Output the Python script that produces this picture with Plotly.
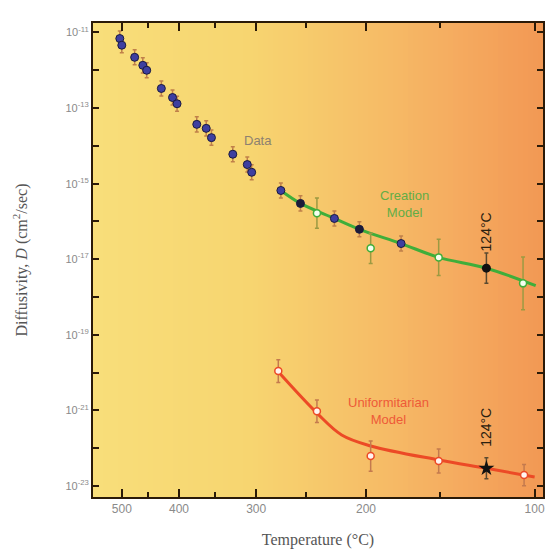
import plotly.graph_objects as go

# ---------------- data ----------------
# Measured helium diffusivity data: temperature (°C), D (cm^2/s)
data_T = [504, 500, 475, 460, 453, 428, 410, 403, 374, 361, 354, 327, 310, 305,
          274, 255, 225, 205, 175]
data_D = [6.9e-12, 4.6e-12, 2.2e-12, 1.35e-12, 1.0e-12, 3.3e-13, 1.9e-13, 1.3e-13,
          3.7e-14, 2.9e-14, 1.65e-14, 6.0e-15, 3.2e-15, 2.0e-15,
          6.6e-16, 3.0e-16, 1.2e-16, 6.2e-17, 2.6e-17]
data_kind = ["b", "b", "b", "b", "b", "b", "b", "b", "b", "b", "b", "b", "b", "b",
             "b", "k", "b", "k", "b"]
data_err_dec = [0.2] * 19

# Creation model predictions (open points) and curve
cre_T = [240, 196.5, 151, 105.5]
cre_D = [1.66e-16, 1.95e-17, 1.12e-17, 2.3e-18]
cre_err_dec = [0.4, 0.4, 0.48, 0.7]
cre_line_T = [274, 255, 225, 205, 175, 151, 124, 99.5]
cre_line_D = [6.6e-16, 3.0e-16, 1.2e-16, 6.2e-17, 2.6e-17, 1.12e-17, 5.8e-18, 2.0e-18]

# 124 °C points
pt124_T = [124]
pt124_cre_D = [5.8e-18]
pt124_uni_D = [2.95e-23]

# Uniformitarian model predictions and curve
uni_T = [276.6, 240, 196.5, 151, 105]
uni_D = [1.1e-20, 9.5e-22, 6.2e-23, 4.6e-23, 1.95e-23]
uni_err_dec = [0.3, 0.3, 0.4, 0.32, 0.28]
uni_line_T = [276.6, 240, 219, 196.5, 151, 124, 100]
uni_line_D = [1.05e-20, 8.5e-22, 2.24e-22, 1.15e-22, 4.9e-23, 2.95e-23, 1.74e-23]

# axis ticks
x_major_T = [500, 400, 300, 200, 100]
x_minor_T = [450, 350, 250, 150]
y_major_dec = [-11, -13, -15, -17, -19, -21, -23]
y_minor_dec = [-12, -14, -16, -18, -20, -22]


def u(T):
    """Inverse absolute temperature axis (1000/K)."""
    return [1000.0 / (t + 273.15) for t in T]


def errs(D, dec):
    up = [d * (10 ** e - 1) for d, e in zip(D, dec)]
    dn = [d * (1 - 10 ** -e) for d, e in zip(D, dec)]
    return up, dn


fig = go.Figure()

# gradient background (yellow -> orange)
stops = [(0.0, (248, 222, 122)), (0.35, (247, 213, 112)), (0.6, (246, 192, 104)),
         (0.8, (245, 172, 96)), (1.0, (242, 152, 84))]
N = 90
for i in range(N):
    p = (i + 0.5) / N
    for j in range(len(stops) - 1):
        if stops[j][0] <= p <= stops[j + 1][0]:
            a, ca = stops[j]
            b, cb = stops[j + 1]
            f = (p - a) / (b - a)
            c = tuple(int(round(ca[k] + (cb[k] - ca[k]) * f)) for k in range(3))
            break
    fig.add_shape(type="rect", xref="paper", yref="paper", x0=i / N, x1=(i + 1) / N + 0.002,
                  y0=0, y1=1, fillcolor="rgb(%d,%d,%d)" % c, line_width=0, layer="below")

# model curves
fig.add_trace(go.Scatter(x=u(cre_line_T), y=cre_line_D, mode="lines",
                         line=dict(color="#3fae3a", width=3, shape="spline", smoothing=1.0),
                         hoverinfo="skip", showlegend=False))
fig.add_trace(go.Scatter(x=u(uni_line_T), y=uni_line_D, mode="lines",
                         line=dict(color="#ec4a26", width=3, shape="spline", smoothing=1.0),
                         hoverinfo="skip", showlegend=False))

# measured data
up, dn = errs(data_D, data_err_dec)
fig.add_trace(go.Scatter(
    x=u(data_T), y=data_D, mode="markers",
    marker=dict(size=8, color=["#3e3fa0" if k == "b" else "#1c1c38" for k in data_kind],
                line=dict(color="#1a1a40", width=1)),
    error_y=dict(type="data", symmetric=False, array=up, arrayminus=dn,
                 color="#c0804a", thickness=1.5, width=2),
    showlegend=False))

# creation model points
up, dn = errs(cre_D, cre_err_dec)
fig.add_trace(go.Scatter(
    x=u(cre_T), y=cre_D, mode="markers",
    marker=dict(size=7, color="#f4fff0", line=dict(color="#3fae3a", width=1.5)),
    error_y=dict(type="data", symmetric=False, array=up, arrayminus=dn,
                 color="#9c9a42", thickness=1.5, width=2),
    showlegend=False))

# uniformitarian model points
up, dn = errs(uni_D, uni_err_dec)
fig.add_trace(go.Scatter(
    x=u(uni_T), y=uni_D, mode="markers",
    marker=dict(size=7, color="#fff4f0", line=dict(color="#ec4a26", width=1.5)),
    error_y=dict(type="data", symmetric=False, array=up, arrayminus=dn,
                 color="#c47a4e", thickness=1.5, width=2),
    showlegend=False))

# 124 °C points
up, dn = errs(pt124_cre_D, [0.4])
fig.add_trace(go.Scatter(
    x=u(pt124_T), y=pt124_cre_D, mode="markers",
    marker=dict(size=9, color="#111111"),
    error_y=dict(type="data", symmetric=False, array=up, arrayminus=dn,
                 color="#5a4a30", thickness=1.5, width=2),
    showlegend=False))
up, dn = errs(pt124_uni_D, [0.28])
fig.add_trace(go.Scatter(
    x=u(pt124_T), y=pt124_uni_D, mode="markers",
    marker=dict(size=12, color="#111111", symbol="star"),
    error_y=dict(type="data", symmetric=False, array=up, arrayminus=dn,
                 color="#5a4a30", thickness=1.5, width=2),
    showlegend=False))

# annotations
fig.add_annotation(x=u([298])[0], y=-13.86, text="Data", showarrow=False,
                   font=dict(family="Arial, Liberation Sans", size=13, color="#8d8170"))
fig.add_annotation(x=u([173])[0], y=-15.55, text="Creation<br>Model", showarrow=False,
                   font=dict(family="Arial, Liberation Sans", size=13, color="#62ad45"))
fig.add_annotation(x=u([184])[0], y=-21.02, text="Uniformitarian<br>Model", showarrow=False,
                   font=dict(family="Arial, Liberation Sans", size=13, color="#ee5a38"))
fig.add_annotation(x=u([124])[0], y=-16.28, text="124°C", showarrow=False, textangle=-90,
                   font=dict(family="Arial, Liberation Sans", size=14, color="#2a2010"))
fig.add_annotation(x=u([124])[0], y=-21.45, text="124°C", showarrow=False, textangle=-90,
                   font=dict(family="Arial, Liberation Sans", size=14, color="#2a2010"))

axis_col = "#2a1a08"
fig.update_layout(
    width=551, height=556,
    margin=dict(l=93, r=6, t=23, b=59),
    paper_bgcolor="white", plot_bgcolor="rgba(0,0,0,0)",
    xaxis=dict(
        range=[1.1967, 2.708],
        tickvals=u(x_major_T), ticktext=[str(t) for t in x_major_T],
        ticks="inside", ticklen=8, tickwidth=2, tickcolor=axis_col,
        minor=dict(tickvals=u(x_minor_T), ticks="inside", ticklen=5, tickwidth=2,
                   tickcolor=axis_col, showgrid=False),
        showline=True, linewidth=2, linecolor=axis_col, mirror="ticks",
        showgrid=False, zeroline=False,
        tickfont=dict(family="Arial, Liberation Sans", size=12, color="#8a8a8a"),
        title=dict(text="Temperature (°C)", standoff=18,
                   font=dict(family="Liberation Serif, Times New Roman", size=16, color="#555555")),
    ),
    yaxis=dict(
        type="log", range=[-23.29, -10.75],
        tickvals=[10.0 ** d for d in y_major_dec],
        ticktext=["10<sup>%d</sup>" % d for d in y_major_dec],
        ticks="inside", ticklen=6, tickwidth=2, tickcolor=axis_col,
        minor=dict(tickvals=[10.0 ** d for d in y_minor_dec], ticks="inside", ticklen=6,
                   tickwidth=2, tickcolor=axis_col, showgrid=False),
        showline=True, linewidth=2, linecolor=axis_col, mirror="ticks",
        showgrid=False, zeroline=False,
        tickfont=dict(family="Arial, Liberation Sans", size=11, color="#8a8a8a"),
        title=dict(text="Diffusivity, <i>D</i> (cm<sup>2</sup>/sec)", standoff=34,
                   font=dict(family="Liberation Serif, Times New Roman", size=16, color="#555555")),
    ),
)

fig.write_html("out.html", config={"displayModeBar": False},
               post_script="document.body.style.margin='0';")
